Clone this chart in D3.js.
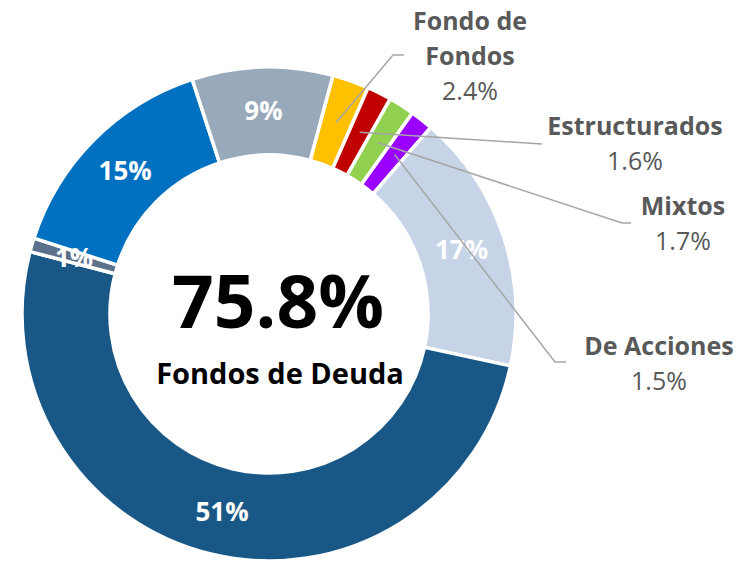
<!DOCTYPE html>
<html>
<head>
<meta charset="utf-8">
<script src="https://d3js.org/d3.v7.min.js"></script>
<style>
body { margin: 0; background: #fff; }
svg text { font-family: "Open Sans", Lato, sans-serif; }
</style>
</head>
<body>
<div id="chart"></div>
<script>
// data, in drawing order (clockwise from the first slice)
var categories = ["Fondo de Fondos", "Estructurados", "Mixtos", "De Acciones", "Otros", "Deuda A", "Deuda B", "Deuda C", "Deuda D"];
var values = [2.4, 1.6, 1.7, 1.5, 17.0, 50.7, 0.9, 15.0, 9.2];
var inLabels = ["", "", "", "", "17%", "51%", "1%", "15%", "9%"];
var outNames = [["Fondo de", "Fondos"], ["Estructurados"], ["Mixtos"], ["De Acciones"]];
var outValues = ["2.4%", "1.6%", "1.7%", "1.5%"];
var centerValue = "75.8%";
var centerLabel = "Fondos de Deuda";

var colors = ["#ffc000", "#c00000", "#92d050", "#9900ff", "#c7d4e8", "#195886", "#5b7089", "#0070c0", "#97a9ba"];

// callout layout: elbow point, label centre x, first baseline
var callouts = [
    {ex: 393, ey: 55, hx: 404, tx: 470, ty: 30},
    {ex: 542, ey: 144, hx: 542, tx: 635, ty: 135},
    {ex: 622, ey: 223, hx: 631, tx: 683, ty: 215},
    {ex: 555, ey: 362, hx: 566, tx: 659, ty: 355}
];

var width = 748, height = 562;
var cx = 269, cy = 314, outerR = 247, innerR = 159;

var svg = d3.select("#chart").append("svg")
    .attr("width", width)
    .attr("height", height);

var g = svg.append("g").attr("transform", "translate(" + cx + "," + cy + ")");

var pie = d3.pie().sort(null)
    .startAngle(15 * Math.PI / 180)
    .endAngle((15 + 360) * Math.PI / 180);

var arc = d3.arc().innerRadius(innerR).outerRadius(outerR);
var midArc = d3.arc().innerRadius(203).outerRadius(203);

var arcs = pie(values);

g.selectAll("path.slice").data(arcs).enter().append("path")
    .attr("class", "slice")
    .attr("d", arc)
    .attr("fill", function(d, i){ return colors[i]; })
    .attr("stroke", "#fff")
    .attr("stroke-width", 3.5);

g.selectAll("text.in").data(arcs).enter().append("text")
    .attr("class", "in")
    .attr("x", function(d){ return midArc.centroid(d)[0]; })
    .attr("y", function(d){ return midArc.centroid(d)[1]; })
    .attr("dy", "0.36em")
    .attr("text-anchor", "middle")
    .attr("fill", "#fff")
    .attr("font-weight", "bold")
    .attr("font-size", 26)
    .text(function(d, i){ return inLabels[i]; });

// leader lines for the small slices
var small = arcs.slice(0, 4);
g.selectAll("polyline.lead").data(small).enter().append("polyline")
    .attr("class", "lead")
    .attr("fill", "none")
    .attr("stroke", "#a6a6a6")
    .attr("stroke-width", 1.5)
    .attr("points", function(d, i){
        var c = midArc.centroid(d), k = callouts[i];
        return [c, [k.ex - cx, k.ey - cy], [k.hx - cx, k.ey - cy]].map(function(p){ return p.join(","); }).join(" ");
    });

small.forEach(function(d, i){
    var k = callouts[i];
    var t = svg.append("text")
        .attr("text-anchor", "middle")
        .attr("fill", "#595959")
        .attr("font-size", 25);
    outNames[i].forEach(function(line, j){
        t.append("tspan")
            .attr("x", k.tx)
            .attr("y", k.ty + j * 35)
            .attr("font-weight", "bold")
            .text(line);
    });
    t.append("tspan")
        .attr("x", k.tx)
        .attr("y", k.ty + outNames[i].length * 35)
        .text(outValues[i]);
});

// centre text
svg.append("text")
    .attr("x", 278).attr("y", 328)
    .attr("text-anchor", "middle")
    .attr("font-weight", "bold")
    .attr("font-size", 73)
    .attr("fill", "#000")
    .text(centerValue);

svg.append("text")
    .attr("x", 280).attr("y", 384)
    .attr("text-anchor", "middle")
    .attr("font-weight", "bold")
    .attr("font-size", 29)
    .attr("fill", "#000")
    .text(centerLabel);
</script>
</body>
</html>
